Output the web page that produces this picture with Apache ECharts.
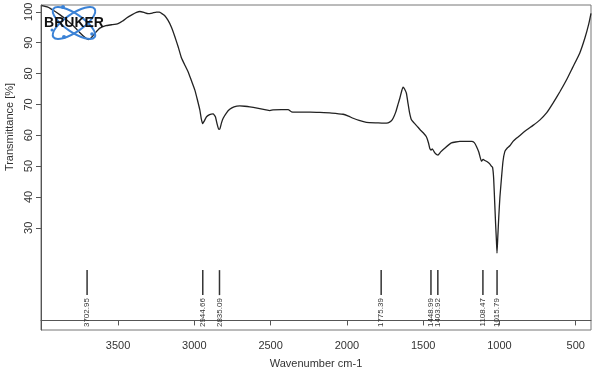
<!DOCTYPE html>
<html>
<head>
<meta charset="utf-8">
<script src="https://cdn.jsdelivr.net/npm/echarts@6/dist/echarts.min.js"></script>
<style>html,body{margin:0;padding:0;background:#fff}#c{width:600px;height:375px}</style>
</head>
<body>
<div id="c"></div>
<script>
// ---- data ----
var wavenumbers = [4000,3960,3925,3880,3838,3790,3750,3720,3696,3675,3652,3619,3580,3543,3500,3470,3444,3410,3379,3357,3330,3303,3275,3248,3230,3215,3195,3172,3150,3128,3105,3084,3060,3041,3020,2997,2980,2964,2955,2946,2935,2920,2900,2877,2862,2850,2840,2833,2822,2811,2790,2768,2740,2702,2670,2636,2580,2530,2505,2484,2430,2385,2363,2300,2240,2177,2100,2025,1990,1959,1920,1872,1800,1760,1730,1710,1697,1680,1665,1653,1640,1632,1622,1610,1600,1590,1577,1560,1534,1520,1500,1479,1465,1457,1448,1440,1425,1410,1402,1385,1359,1315,1260,1220,1183,1165,1150,1135,1118,1107,1095,1080,1065,1053,1045,1038,1031,1025,1020,1016,1011,1004,997,987,977,965,950,932,911,889,860,823,780,736,690,649,605,561,520,474,440,415,400];
var transmittance = [102.0,101.5,100.5,99.0,97.4,95.3,93.2,91.8,91.0,91.6,93.0,94.7,95.5,95.8,96.2,97.0,98.0,99.0,99.8,100.1,99.8,99.4,99.6,99.9,99.9,99.5,98.8,97.2,95.0,92.0,88.5,85.0,82.5,80.6,77.8,74.7,71.5,68.2,65.5,63.8,64.6,66.0,66.7,66.9,66.0,63.5,61.9,62.0,64.0,65.5,67.2,68.4,69.2,69.5,69.4,69.2,68.7,68.2,68.0,68.2,68.3,68.3,67.6,67.5,67.5,67.4,67.2,66.8,66.2,65.5,64.8,64.2,64.0,63.9,64.0,64.6,65.5,67.5,70.0,72.0,74.5,75.6,75.0,73.6,70.5,67.5,65.0,64.0,62.6,61.8,60.8,59.5,57.5,55.8,55.2,55.6,54.4,53.7,53.6,54.6,55.8,57.5,58.0,58.0,58.0,57.6,56.3,54.5,51.6,52.2,51.8,51.4,50.8,50.0,49.6,46,38,31,26,21.8,27,34,40,46,51.5,54.7,55.8,56.6,58.0,59.0,60.2,61.7,63.2,64.9,67.3,70.4,74.0,77.9,82.0,86.6,91.5,96.0,99.5];
var peaks = [3702.95, 2944.66, 2835.09, 1775.39, 1448.99, 1403.92, 1108.47, 1015.79];
var peakLabels = ["3702.95","2944.66","2835.09","1775.39","1448.99","1403.92","1108.47","1015.79"];
var xTicks = [3500, 3000, 2500, 2000, 1500, 1000, 500];
var yTicks = [30, 40, 50, 60, 70, 80, 90, 100];

var spectrum = wavenumbers.map(function (w, i) { return [w, transmittance[i]]; });
var peakData = peaks.map(function (p, i) { return [p, i]; });

var FONT = 'Liberation Sans, Arial, sans-serif';
var MARK_TOP = 16.3, MARK_BOTTOM = 8.2;

var chart = echarts.init(document.getElementById('c'), null, {renderer: 'canvas'});
chart.setOption({
  animation: false,
  backgroundColor: '#fff',
  grid: {left: 41, right: 9, top: 5, bottom: 45, show: true, borderColor: '#777', borderWidth: 1, containLabel: false, outerBoundsMode: 'none'},
  xAxis: {
    type: 'value', inverse: true, min: 400, max: 4005,
    axisLine: {show: true, lineStyle: {color: '#555', width: 1}},
    axisTick: {show: true, customValues: xTicks, length: 5, inside: false, lineStyle: {color: '#555'}},
    axisLabel: {customValues: xTicks, fontSize: 11, color: '#333', fontFamily: FONT, margin: 10,
      formatter: function (v) { return String(v); }},
    splitLine: {show: false}
  },
  yAxis: {
    type: 'value', min: -3.1, max: 102.2,
    axisLine: {show: true, lineStyle: {color: '#555', width: 1}},
    axisTick: {show: true, customValues: yTicks, length: 5, lineStyle: {color: '#555'}},
    axisLabel: {customValues: yTicks, rotate: 90, fontSize: 11, color: '#333', fontFamily: FONT, margin: 7,
      formatter: function (v) { return String(v); }},
    splitLine: {show: false}
  },
  graphic: [
    {type: 'text', x: 10, y: 127, rotation: Math.PI / 2, z: 50,
     style: {text: 'Transmittance [%]', fontSize: 11, fill: '#333', fontFamily: FONT, align: 'center', verticalAlign: 'middle'}},
    {type: 'text', x: 316, y: 364, z: 50,
     style: {text: 'Wavenumber cm-1', fontSize: 11, fill: '#333', fontFamily: FONT, align: 'center', verticalAlign: 'middle'}},
    {type: 'ellipse', x: 74, y: 23, rotation: 0.6, z: 100,
     shape: {cx: 0, cy: 0, rx: 25, ry: 9}, style: {fill: null, stroke: '#3b82d6', lineWidth: 2}},
    {type: 'ellipse', x: 74, y: 23, rotation: -0.6, z: 100,
     shape: {cx: 0, cy: 0, rx: 25, ry: 9}, style: {fill: null, stroke: '#3b82d6', lineWidth: 2}},
    {type: 'circle', z: 101, shape: {cx: 63, cy: 7, r: 2}, style: {fill: '#3b82d6'}},
    {type: 'circle', z: 101, shape: {cx: 64, cy: 37, r: 2}, style: {fill: '#3b82d6'}},
    {type: 'circle', z: 101, shape: {cx: 92, cy: 34, r: 1.8}, style: {fill: '#3b82d6'}},
    {type: 'circle', z: 101, shape: {cx: 52, cy: 30, r: 1.5}, style: {fill: '#3b82d6'}},
    {type: 'text', x: 74, y: 23, z: 102,
     style: {text: 'BRUKER', fontSize: 14, fontWeight: 'bold', fill: '#111', fontFamily: FONT, align: 'center', verticalAlign: 'middle'}}
  ],
  series: [
    {
      type: 'line', data: spectrum, showSymbol: false, smooth: 0.15, z: 3,
      lineStyle: {color: '#222', width: 1.3}
    },
    {
      type: 'custom', data: peakData, z: 4,
      encode: {x: 0},
      renderItem: function (params, api) {
        var w = api.value(0);
        var idx = api.value(1);
        var pTop = api.coord([w, MARK_TOP]);
        var pBot = api.coord([w, MARK_BOTTOM]);
        return {
          type: 'group',
          children: [
            {type: 'line', shape: {x1: pTop[0], y1: pTop[1], x2: pBot[0], y2: pBot[1]},
             style: {stroke: '#333', lineWidth: 1.5}},
            {type: 'text', x: pBot[0], y: pBot[1] + 3, rotation: Math.PI / 2,
             style: {text: peakLabels[idx], fontSize: 8, fill: '#333', fontFamily: FONT, align: 'right', verticalAlign: 'middle'}}
          ]
        };
      }
    }
  ]
});
</script>
</body>
</html>
